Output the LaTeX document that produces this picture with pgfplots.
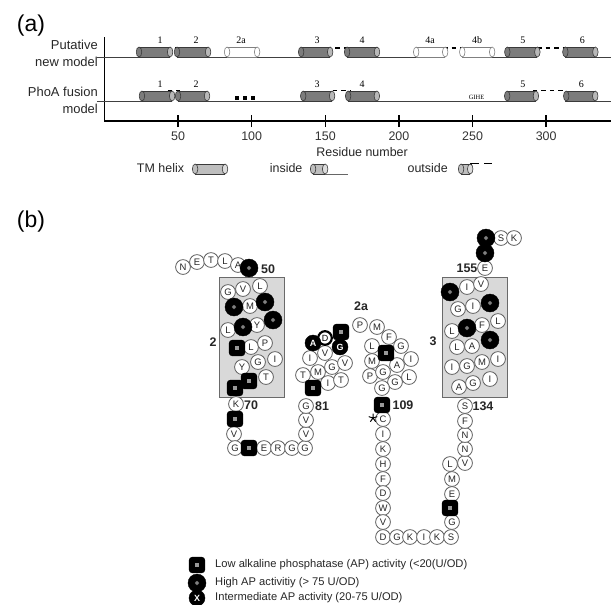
\documentclass[border=0pt]{standalone}
\usepackage{fontspec}
\setmainfont{Liberation Sans}
\newfontfamily\serifnum{Liberation Serif}
\usepackage{pgfplots}
\usepackage{pgfplotstable}
\pgfplotsset{compat=1.18}

\definecolor{cyldark}{HTML}{7C7C7C}
\definecolor{cylcap}{HTML}{B8B8B8}
\definecolor{cyledge}{HTML}{3A3A3A}
\definecolor{tmfill}{HTML}{BEBEBE}
\definecolor{tmcap}{HTML}{DCDCDC}
\definecolor{boxfill}{HTML}{D9D9D9}
\definecolor{boxedge}{HTML}{6A6A6A}
\definecolor{circedge}{HTML}{5E5E5E}
\definecolor{wedge}{HTML}{808080}

\pgfdeclareplotmark{rsquare}{%
  \pgfpathmoveto{\pgfpoint{-\pgfplotmarksize+3pt}{-\pgfplotmarksize}}%
  \pgfpathlineto{\pgfpoint{\pgfplotmarksize-3pt}{-\pgfplotmarksize}}%
  \pgfpatharc{-90}{0}{3pt}%
  \pgfpathlineto{\pgfpoint{\pgfplotmarksize}{\pgfplotmarksize-3pt}}%
  \pgfpatharc{0}{90}{3pt}%
  \pgfpathlineto{\pgfpoint{-\pgfplotmarksize+3pt}{\pgfplotmarksize}}%
  \pgfpatharc{90}{180}{3pt}%
  \pgfpathlineto{\pgfpoint{-\pgfplotmarksize}{-\pgfplotmarksize+3pt}}%
  \pgfpatharc{180}{270}{3pt}%
  \pgfpathclose
  \pgfusepathqfillstroke}

% cylinder: x1 x2 ybottom ymid ytop bodyfill capfill edge
\newcommand{\cyl}[8]{%
  \addplot[only marks, mark=*, mark size=5bp, mark options={xscale=0.55, fill=#6, draw=#8, line width=0.6bp}] coordinates {(#1,#4)};
  \addplot[fill=#6, draw=none] coordinates {(#1,#3) (#2,#3) (#2,#5) (#1,#5)} -- cycle;
  \addplot[draw=#8, line width=0.6bp, unbounded coords=jump] coordinates {(#1,#3) (#2,#3) (nan,nan) (#1,#5) (#2,#5)};
  \addplot[only marks, mark=*, mark size=5bp, mark options={xscale=0.55, fill=#7, draw=#8, line width=0.6bp}] coordinates {(#2,#4)};
}

\pgfplotstableread{
x y l
183 267 N
197 262 E
211 260 T
225 261 L
238 265 A
228 292 G
243 289 V
260 286 L
250 306 M
228 330 L
257 325 Y
251 347 L
265 343 P
242 367 Y
258 362 G
275 359 I
266 377 T
236 404 K
234 434 V
235 448 G
264 448 E
278 448 R
292 448 G
305 448 G
306 434 V
306 420 V
306 406 G
328 383 I
341 380 T
303 375 T
318 372 M
332 367 G
345 363 V
310 358 I
325 353 V
360 325 P
377 327 M
389 337 F
401 346 G
372 346 L
411 359 I
372 361 M
397 365 A
370 376 P
383 372 G
395 382 G
409 377 L
382 388 G
383 419 C
383 434 I
383 449 K
383 464 H
383 479 F
383 493 D
383 508 W
383 522 V
383 537 D
397 537 G
410 537 K
424 537 I
437 537 K
451 537 S
452 522 G
452 494 E
452 479 M
450 464 L
465 463 V
465 449 N
465 435 N
465 421 F
465 406 S
459 387 A
473 383 G
490 379 I
452 367 I
467 366 G
482 362 M
498 359 I
457 347 L
472 346 A
452 331 L
482 325 F
498 321 L
458 309 G
473 306 I
467 287 I
481 284 V
485 268 E
501 238 S
514 238 K
}\whiteres

\pgfplotstableread{
x y l
313 343 A
340 347 G
197 598 X
}\midres

\pgfplotstableread{
x y
249 268
234 307
265 302
243 327
273 320
490 340
467 328
490 303
450 292
485 253
486 238
197 583
}\highres

\pgfplotstableread{
x y
237 348
249 381
235 388
235 419
249 448
313 388
341 332
386 353
382 405
450 508
197 565
}\lowres

\begin{document}
\begin{tikzpicture}
\path[use as bounding box] (0,0) rectangle (612bp,-605bp);

% ---------------- panel (a) ----------------
\begin{axis}[
  at={(104.4bp,-121bp)}, anchor=south west,
  scale only axis, width=506.6bp, height=84bp,
  xmin=0, xmax=344, ymin=0, ymax=84,
  axis lines*=left,
  axis line style={line width=1.6bp, black},
  ytick=\empty,
  xtick={50,100,150,200,250,300},
  tick align=center, major tick length=12bp,
  tick style={line width=1.6bp, black},
  xticklabel style={font=\fontsize{12.5}{13}\selectfont, text=black!80, yshift=-1.5bp},
  /pgf/number format/assume math mode=true,
  clip=false,
]
% baselines (inside segments)
\addplot[color=black!75, line width=0.7bp, unbounded coords=jump] coordinates {(-5,64) (44,64) (nan,nan) (50,64) (152,64) (nan,nan) (165,64) (231,64) (nan,nan) (243,64) (293,64) (nan,nan) (313,64) (344,64)};
\addplot[color=black!75, line width=0.7bp, unbounded coords=jump] coordinates {(-5,20) (46,20) (nan,nan) (50,20) (154,20) (nan,nan) (166,20) (292,20) (nan,nan) (313,20) (344,20)};
% outside loops (dashed)
\addplot[black, line width=1.8bp, dash pattern=on 4.5bp off 4bp, unbounded coords=jump] coordinates {(42.5,73.3) (51.4,73.3) (nan,nan) (151,73.3) (166,73.3) (nan,nan) (230,73.3) (243,73.3) (nan,nan) (288,73.3) (316,73.3)};
\addplot[black, line width=1.8bp, dash pattern=on 4.5bp off 4bp, unbounded coords=jump] coordinates {(43,30.5) (51.4,30.5) (nan,nan) (155,30.5) (167,30.5) (nan,nan) (291,30.5) (313,30.5)};
% putative model helices
\cyl{23.5}{44.6}{64}{69}{74}{cyldark}{cylcap}{cyledge}
\cyl{49.3}{70.4}{64}{69}{74}{cyldark}{cylcap}{cyledge}
\cyl{83.3}{103.7}{64}{69}{74}{white}{white}{wedge}
\cyl{133.6}{153.3}{64}{69}{74}{cyldark}{cylcap}{cyledge}
\cyl{164.8}{185.1}{64}{69}{74}{cyldark}{cylcap}{cyledge}
\cyl{211.7}{231.4}{64}{69}{74}{white}{white}{wedge}
\cyl{243.0}{263.3}{64}{69}{74}{white}{white}{wedge}
\cyl{273.6}{294.0}{64}{69}{74}{cyldark}{cylcap}{cyledge}
\cyl{313.0}{333.4}{64}{69}{74}{cyldark}{cylcap}{cyledge}
% PhoA fusion model helices
\cyl{25.5}{46.0}{20}{25}{30}{cyldark}{cylcap}{cyledge}
\cyl{50.0}{69.7}{20}{25}{30}{cyldark}{cylcap}{cyledge}
\cyl{135.0}{154.6}{20}{25}{30}{cyldark}{cylcap}{cyledge}
\cyl{165.5}{185.0}{20}{25}{30}{cyldark}{cylcap}{cyledge}
\cyl{273.5}{293.0}{20}{25}{30}{cyldark}{cylcap}{cyledge}
\cyl{313.6}{333.3}{20}{25}{30}{cyldark}{cylcap}{cyledge}
% dots
\addplot[only marks, mark=square*, mark size=1.6bp, black] coordinates {(89.7,23) (95.1,23) (100.5,23)};
% legend symbols
\cyl{61.6}{81.9}{-53}{-48}{-43}{tmfill}{tmcap}{cyledge}
\addplot[color=black!60, line width=0.8bp] coordinates {(149.9,-53) (165.5,-53)};
\cyl{141.7}{149.9}{-53}{-48}{-43}{tmfill}{tmcap}{cyledge}
\cyl{242.2}{248.4}{-53}{-48}{-43}{tmfill}{tmcap}{cyledge}
\addplot[black, line width=1.8bp] coordinates {(249.2,-48) (249.2,-42.5) (254.5,-42.5)};
\addplot[black, line width=1.8bp] coordinates {(257.9,-42.5) (263.3,-42.5)};

% helix numbers
\begin{scope}[every node/.style={font=\serifnum\fontsize{10}{10}\selectfont}]
\node at (axis cs:37.8,81) {1};
\node at (axis cs:62.2,81) {2};
\node at (axis cs:92.8,81) {2a};
\node at (axis cs:144.4,81) {3};
\node at (axis cs:175,81) {4};
\node at (axis cs:221.2,81) {4a};
\node at (axis cs:253.1,81) {4b};
\node at (axis cs:284.2,81) {5};
\node at (axis cs:324.5,81) {6};
\node at (axis cs:37.8,37) {1};
\node at (axis cs:62.2,37) {2};
\node at (axis cs:144.4,37) {3};
\node at (axis cs:175,37) {4};
\node at (axis cs:284.2,37) {5};
\node at (axis cs:323.8,37) {6};
\end{scope}
\node[font=\serifnum\fontsize{6.5}{7}\selectfont] at (axis cs:252.7,23.8) {GIHE};
% row labels
\node[anchor=east, align=right, font=\fontsize{13}{17}\selectfont, inner sep=0pt, text=black!85] at (axis cs:-4.35,67.5) {Putative\\new model};
\node[anchor=east, align=right, font=\fontsize{13}{17}\selectfont, inner sep=0pt, text=black!85] at (axis cs:-4.35,20.5) {PhoA fusion\\model};
% axis title and legend text
\node[font=\fontsize{12.5}{13}\selectfont, text=black!85] at (axis cs:175,-31) {Residue number};
\node[font=\fontsize{12.5}{13}\selectfont, text=black!85] at (axis cs:38.1,-47) {TM helix};
\node[font=\fontsize{12.5}{13}\selectfont, text=black!85] at (axis cs:123.4,-47) {inside};
\node[font=\fontsize{12.5}{13}\selectfont, text=black!85] at (axis cs:219.5,-47) {outside};
\end{axis}

% ---------------- panel (b) ----------------
\begin{axis}[
  at={(0,0)}, anchor=north west,
  scale only axis, width=612bp, height=605bp,
  xmin=0, xmax=612, ymin=0, ymax=605, y dir=reverse,
  hide axis, clip=false,
]
% TM boxes
\addplot[fill=boxfill, draw=boxedge, line width=1bp] coordinates {(219,277) (284,277) (284,397) (219,397)} -- cycle;
\addplot[fill=boxfill, draw=boxedge, line width=1bp] coordinates {(442,277) (507,277) (507,397) (442,397)} -- cycle;
% white residues
\addplot[only marks, mark=*, mark size=7.4bp, mark options={fill=white, draw=circedge, line width=0.8bp},
  point meta=explicit symbolic, nodes near coords, nodes near coords align={anchor=center},
  every node near coord/.append style={font=\fontsize{9.5}{10}\selectfont, inner sep=0pt, text=black!85}]
  table[x=x, y=y, meta=l] {\whiteres};
% thick-ring residue
\addplot[only marks, mark=*, mark size=6.8bp, mark options={fill=white, draw=black, line width=2.2bp},
  point meta=explicit symbolic, nodes near coords, nodes near coords align={anchor=center},
  every node near coord/.append style={font=\fontsize{9}{9}\selectfont, inner sep=0pt}]
  coordinates {(325,338) [D]};
% low activity (rounded squares)
\addplot[only marks, mark=rsquare, mark size=7.8bp, mark options={fill=black, draw=black, line width=0.5bp}] table[x=x, y=y] {\lowres};
\addplot[only marks, mark=square*, mark size=2.4bp, mark options={fill=black!40, draw=none}] table[x=x, y=y] {\lowres};
% high activity (circles)
\addplot[only marks, mark=*, mark size=9bp, mark options={fill=black, draw=black}] table[x=x, y=y] {\highres};
\addplot[only marks, mark=*, mark size=2.2bp, mark options={fill=black!50, draw=none}] table[x=x, y=y] {\highres};
% intermediate (letter shown in white)
\addplot[only marks, mark=*, mark size=8bp, mark options={fill=black, draw=black},
  point meta=explicit symbolic, nodes near coords, nodes near coords align={anchor=center},
  every node near coord/.append style={font=\bfseries\fontsize{9}{9}\selectfont, inner sep=0pt, text=white}]
  table[x=x, y=y, meta=l] {\midres};
% star
\addplot[only marks, mark=star, mark size=4.5bp, black, line width=1bp] coordinates {(373,418)};

% labels
\begin{scope}[every node/.style={font=\bfseries\fontsize{12.5}{13}\selectfont, text=black!85}]
\node at (axis cs:268,269) {50};
\node at (axis cs:251,405) {70};
\node at (axis cs:322,406) {81};
\node at (axis cs:403,405) {109};
\node at (axis cs:483,406) {134};
\node at (axis cs:467,268) {155};
\node at (axis cs:213,342) {2};
\node at (axis cs:433,341) {3};
\node at (axis cs:361,306) {2a};
\end{scope}
\begin{scope}[every node/.style={anchor=west, font=\fontsize{11.2}{12}\selectfont, inner sep=0pt, text=black!85}]
\node at (axis cs:215,565) {Low alkaline phosphatase (AP) activity (<20(U/OD)};
\node at (axis cs:215,583) {High AP activitiy (> 75 U/OD)};
\node at (axis cs:215,598) {Intermediate AP activity (20-75 U/OD)};
\end{scope}
\node[font=\fontsize{23}{24}\selectfont] at (axis cs:31,26) {(a)};
\node[font=\fontsize{23}{24}\selectfont] at (axis cs:31,222) {(b)};
\end{axis}
\end{tikzpicture}
\end{document}
